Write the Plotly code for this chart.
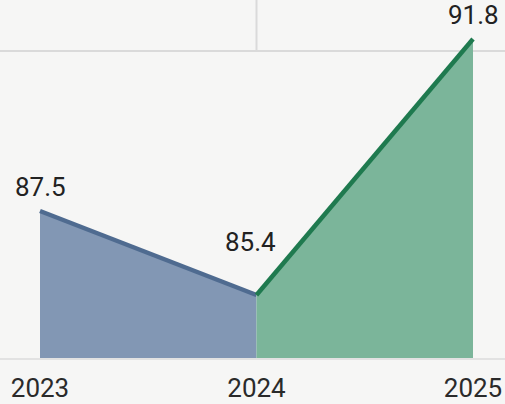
import plotly.graph_objects as go

# Data
years = [2023, 2024, 2025]
values = [87.5, 85.4, 91.8]
labels = ["87.5", "85.4", "91.8"]

# Styling
blue_line = "#4f6b90"
blue_fill = "#8297b4"
green_line = "#1f7a4f"
green_fill = "#7bb59a"
bg = "#f6f6f5"
grid = "#dadada"
font_family = "Roboto, Arial, sans-serif"

y_min, y_max = 83.825, 92.775
grid_val = 91.5

fig = go.Figure()

fig.add_trace(go.Scatter(
    x=years[0:2], y=values[0:2], mode="lines",
    line=dict(color=blue_line, width=4.5),
    fill="tozeroy", fillcolor=blue_fill, hoverinfo="skip", showlegend=False,
))
fig.add_trace(go.Scatter(
    x=years[1:3], y=values[1:3], mode="lines",
    line=dict(color=green_line, width=4.5),
    fill="tozeroy", fillcolor=green_fill, hoverinfo="skip", showlegend=False,
))

shifts = [(0, 24), (-6, 53), (0, 24)]
for x, v, t, (dx, dy) in zip(years, values, labels, shifts):
    fig.add_annotation(
        x=x, y=v, text=t, showarrow=False, xshift=dx, yshift=dy,
        yanchor="middle", xanchor="center",
        font=dict(family=font_family, size=26, color="#222222"),
    )

fig.add_shape(
    type="line", xref="x", yref="y", x0=years[1], x1=years[1],
    y0=grid_val, y1=y_max, line=dict(color=grid, width=2), layer="below",
)

fig.update_layout(
    width=505, height=404,
    margin=dict(l=0, r=0, t=0, b=46, autoexpand=False),
    paper_bgcolor=bg, plot_bgcolor=bg,
    xaxis=dict(
        range=[2023 - 40 / 216.5, 2025 + 32 / 216.5],
        tickvals=years, ticktext=[str(y) for y in years],
        showgrid=False, zeroline=False,
        showline=True, linecolor="#e2e2e2", linewidth=2,
        ticks="", tickfont=dict(family=font_family, size=26, color="#2a2a2a"),
        ticklabelstandoff=6,
        fixedrange=True,
    ),
    yaxis=dict(
        range=[y_min, y_max], tickvals=[grid_val], showticklabels=False,
        showgrid=True, gridcolor=grid, gridwidth=2, zeroline=False,
        fixedrange=True,
    ),
)

fig.write_html(
    "out.html",
    config={"displayModeBar": False},
    post_script="document.body.style.margin='0';document.body.style.overflow='hidden';",
)
